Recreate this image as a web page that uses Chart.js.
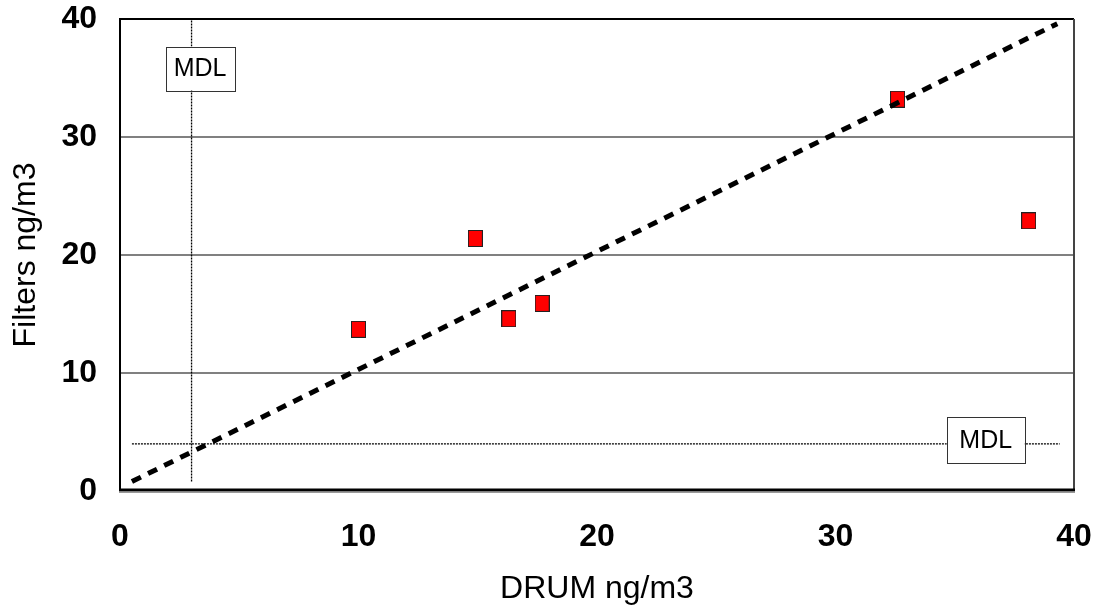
<!DOCTYPE html>
<html>
<head>
<meta charset="utf-8">
<script src="https://cdn.jsdelivr.net/npm/chart.js@4.4.1/dist/chart.umd.min.js"></script>
<style>
  html, body { margin: 0; padding: 0; background: #fff; }
  #wrap { width: 1103px; height: 611px; }
</style>
</head>
<body>
<div id="wrap"><canvas id="chartDrum"></canvas></div>
<script>
// DRUM vs filter samples (ng/m3)
var drumVals = [10.0, 14.9, 16.3, 17.7, 32.6, 38.1];
var filterVals = [13.7, 21.4, 14.6, 15.9, 33.2, 22.9];

// 1:1 reference line
var oneToOneX = [0.5, 39.3];
var oneToOneY = [0.8, 39.6];

// detection limit lines
var mdlVertX = [3, 3];
var mdlVertY = [0.8, 40];
var mdlHorzX = [0.5, 39.4];
var mdlHorzY = [4, 4];

// where the MDL tags sit
var mdlTags = [
    { text: 'MDL', x: 3.36, y: 35.8 },
    { text: 'MDL', x: 36.3, y: 4.3 }
];

var axisTicks = [0, 10, 20, 30, 40];

function pairs(xs, ys) {
    return xs.map(function (x, i) { return { x: x, y: ys[i] }; });
}

// red square marker, a bit taller than wide
var marker = document.createElement('canvas');
marker.width = 15;
marker.height = 17;
(function () {
    var c = marker.getContext('2d');
    c.fillStyle = '#ff0000';
    c.fillRect(0, 0, 15, 17);
    c.strokeStyle = '#222';
    c.lineWidth = 1;
    c.strokeRect(0.5, 0.5, 14, 16);
})();

var plotFrame = {
    id: 'plotFrame',
    beforeDatasetsDraw: function (chart) {
        var a = chart.chartArea, ctx = chart.ctx;
        ctx.save();
        ctx.lineCap = 'butt';
        ctx.strokeStyle = '#000';
        ctx.lineWidth = 2;
        ctx.beginPath();
        ctx.moveTo(a.left, a.bottom);
        ctx.lineTo(a.left, a.top);
        ctx.lineTo(a.right, a.top);
        ctx.stroke();
        ctx.strokeStyle = '#444';
        ctx.beginPath();
        ctx.moveTo(a.right, a.top);
        ctx.lineTo(a.right, a.bottom);
        ctx.stroke();
        ctx.strokeStyle = '#000';
        ctx.lineWidth = 3;
        ctx.beginPath();
        ctx.moveTo(a.left - 1, a.bottom - 1);
        ctx.lineTo(a.right + 1, a.bottom - 1);
        ctx.stroke();
        ctx.strokeStyle = '#999';
        ctx.lineWidth = 1;
        ctx.beginPath();
        ctx.moveTo(a.left - 1, a.bottom + 1.5);
        ctx.lineTo(a.right + 1, a.bottom + 1.5);
        ctx.stroke();
        ctx.restore();
    },
    afterDatasetsDraw: function (chart) {
        var ctx = chart.ctx;
        var sx = chart.scales.x, sy = chart.scales.y;
        ctx.save();
        ctx.font = '25px "Liberation Sans", Arial, sans-serif';
        ctx.textAlign = 'center';
        ctx.textBaseline = 'middle';
        mdlTags.forEach(function (t, i) {
            var cx = sx.getPixelForValue(t.x);
            var cy = sy.getPixelForValue(t.y);
            var w = i === 0 ? 69 : 78, h = i === 0 ? 44 : 46;
            ctx.fillStyle = '#fff';
            ctx.fillRect(cx - w / 2, cy - h / 2, w, h);
            ctx.strokeStyle = '#333';
            ctx.lineWidth = 1;
            ctx.strokeRect(Math.round(cx - w / 2) + 0.5, Math.round(cy - h / 2) + 0.5, w, h);
            ctx.fillStyle = '#000';
            ctx.fillText(t.text, cx, cy + 1);
        });
        ctx.restore();
    }
};

var fontFamily = '"Liberation Sans", Arial, sans-serif';

new Chart(document.getElementById('chartDrum'), {
    type: 'scatter',
    data: {
        datasets: [
            {
                label: '1:1',
                type: 'line',
                data: pairs(oneToOneX, oneToOneY),
                borderColor: '#000',
                borderWidth: 5,
                borderDash: [10, 8],
                pointRadius: 0,
                fill: false,
                order: 0
            },
            {
                label: 'Samples',
                data: pairs(drumVals, filterVals),
                pointStyle: marker,
                order: 1
            },
            {
                label: 'MDL x',
                type: 'line',
                data: pairs(mdlVertX, mdlVertY),
                borderColor: '#000',
                borderWidth: 1.3,
                borderDash: [2, 1],
                pointRadius: 0,
                fill: false,
                order: 2
            },
            {
                label: 'MDL y',
                type: 'line',
                data: pairs(mdlHorzX, mdlHorzY),
                borderColor: '#000',
                borderWidth: 1.3,
                borderDash: [2, 1],
                pointRadius: 0,
                fill: false,
                order: 2
            }
        ]
    },
    options: {
        responsive: true,
        maintainAspectRatio: false,
        animation: false,
        layout: { padding: { top: 19, right: 29, left: 0, bottom: 0 } },
        plugins: { legend: { display: false }, tooltip: { enabled: false } },
        scales: {
            x: {
                type: 'linear',
                min: 0,
                max: 40,
                afterBuildTicks: function (s) { s.ticks = axisTicks.map(function (v) { return { value: v }; }); },
                afterFit: function (s) {
                    s.height = 120;
                    s.paddingLeft = 0;
                    s.paddingRight = 0;
                },
                border: { display: false },
                grid: { display: false, drawTicks: false },
                ticks: {
                    padding: 27,
                    color: '#000',
                    maxRotation: 0,
                    font: { family: fontFamily, size: 32, weight: 'bold' }
                },
                title: {
                    display: true,
                    text: 'DRUM ng/m3',
                    color: '#000',
                    padding: { top: 0, bottom: 3 },
                    font: { family: fontFamily, size: 32 }
                }
            },
            y: {
                type: 'linear',
                min: 0,
                max: 40,
                afterBuildTicks: function (s) { s.ticks = axisTicks.map(function (v) { return { value: v }; }); },
                afterFit: function (s) {
                    s.width = 120;
                    s.paddingTop = 0;
                    s.paddingBottom = 0;
                },
                border: { display: false },
                grid: {
                    drawTicks: false,
                    lineWidth: 2,
                    color: function (c) {
                        var v = c.tick ? c.tick.value : 0;
                        return (v === 0 || v === 40) ? 'rgba(0,0,0,0)' : '#808080';
                    }
                },
                ticks: {
                    padding: 23,
                    color: '#000',
                    font: { family: fontFamily, size: 32, weight: 'bold' }
                },
                title: {
                    display: true,
                    text: 'Filters ng/m3',
                    color: '#000',
                    padding: { top: 7, bottom: 0 },
                    font: { family: fontFamily, size: 32 }
                }
            }
        }
    },
    plugins: [plotFrame]
});
</script>
</body>
</html>
